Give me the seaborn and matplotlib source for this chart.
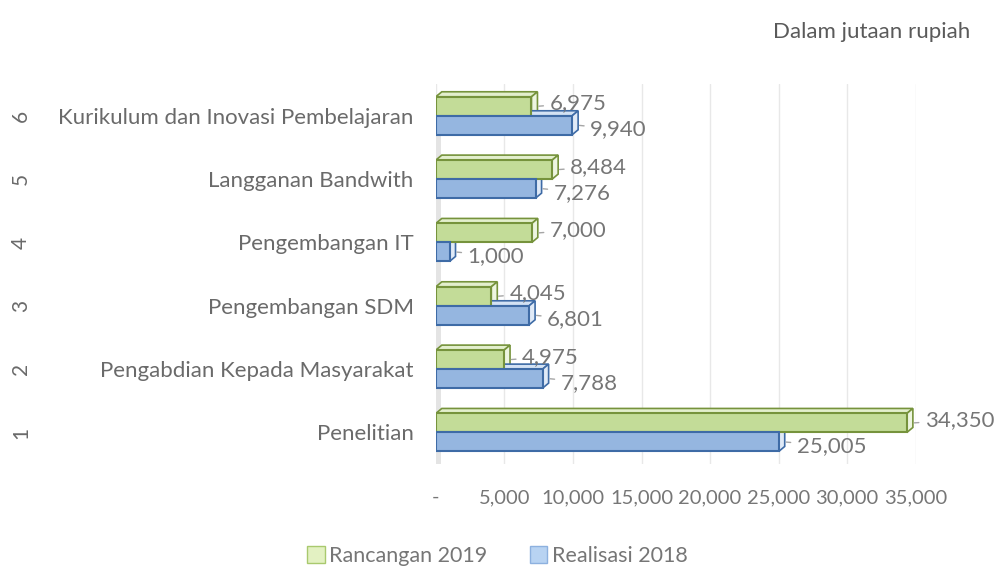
import pandas as pd
import matplotlib.pyplot as plt
import seaborn as sns
from matplotlib.patches import Polygon, Patch, Rectangle
from matplotlib.transforms import blended_transform_factory

# data (Dalam jutaan rupiah)
categories = ['Kurikulum dan Inovasi Pembelajaran', 'Langganan Bandwith', 'Pengembangan IT',
              'Pengembangan SDM', 'Pengabdian Kepada Masyarakat', 'Penelitian']
numbers = ['6', '5', '4', '3', '2', '1']
rancangan_2019 = [6975, 8484, 7000, 4045, 4975, 34350]
realisasi_2018 = [9940, 7276, 1000, 6801, 7788, 25005]
series = ['Rancangan 2019', 'Realisasi 2018']

df = pd.DataFrame({
    'kategori': categories * 2,
    'nilai': rancangan_2019 + realisasi_2018,
    'seri': [series[0]] * 6 + [series[1]] * 6,
})

sns.set_theme(style='white')
plt.rcParams['font.family'] = ['Lato', 'DejaVu Sans']

fig = plt.figure(figsize=(9.95, 5.66), dpi=100)
ax = fig.add_axes([0.438, 0.180, 0.4824, 0.6714])

face = {series[0]: '#C3DC98', series[1]: '#95B6E0'}
edge = {series[0]: '#76933C', series[1]: '#3E6BA6'}
top_c = {series[0]: '#E3EFCD', series[1]: '#D3E2F4'}
side_c = {series[0]: '#EDF5E0', series[1]: '#E0EAF7'}

sns.barplot(data=df, y='kategori', x='nilai', hue='seri', order=categories,
            hue_order=series, palette=face, saturation=1, width=0.6, orient='h',
            ax=ax, legend=False, zorder=3)

ax.set_xlim(0, 35000)
ax.set_ylim(5.5, -0.5)

# depth of the fake 3D bars, in data units
dx = 6 / (ax.bbox.width / 35000)
dy = 5 / (ax.bbox.height / 6)

grey = '#767676'
for i, s in enumerate(series):
    cont = ax.containers[i]
    for p, v in zip(cont.patches, df[df['seri'] == s]['nilai']):
        p.set_edgecolor(edge[s])
        p.set_linewidth(1.5)
        x0, x1 = p.get_x(), p.get_x() + p.get_width()
        yt, yb = p.get_y(), p.get_y() + p.get_height()
        ax.add_patch(Polygon([(x0, yt), (x1, yt), (x1 + dx, yt - dy), (x0 + dx, yt - dy)],
                             closed=True, fc=top_c[s], ec=edge[s], lw=1.2, zorder=2.5))
        ax.add_patch(Polygon([(x1, yt), (x1, yb), (x1 + dx, yb - dy), (x1 + dx, yt - dy)],
                             closed=True, fc=side_c[s], ec=edge[s], lw=1.2, zorder=2.5))
        yc = (yt + yb) / 2
        shift = 3 if i == 0 else -4
        ax.annotate(f'{v:,.0f}', xy=(x1 + dx, yc), xytext=(12, shift),
                    textcoords='offset pixels', va='center', ha='left',
                    fontsize=16, color=grey,
                    arrowprops=dict(arrowstyle='-', color='#A6A6A6', lw=1,
                                    shrinkA=2, shrinkB=1))

# grey side wall and gridlines
ax.add_patch(Rectangle((-300, -0.35), 650, 5.87, fc='#E4E4E4', ec='none', zorder=1))
ax.set_xticks(range(0, 35001, 5000))
ax.set_xticklabels(['-'] + [f'{t:,}' for t in range(5000, 35001, 5000)])
ax.grid(axis='x', color='#E8E8E8', lw=1, zorder=0)
ax.tick_params(axis='x', length=0, pad=18, labelsize=14.5, labelcolor=grey)
ax.tick_params(axis='y', length=0, pad=16, labelsize=16, labelcolor='#6A6A6A')
for sp in ax.spines.values():
    sp.set_visible(False)
ax.set_xlabel('')
ax.set_ylabel('')

# outer level of the category axis
trans = blended_transform_factory(fig.transFigure, ax.transData)
for k, n in enumerate(numbers):
    ax.text(0.021, k, n, transform=trans, rotation=90, va='center', ha='center',
            fontsize=15, color='#6A6A6A')

fig.text(0.975, 0.944, 'Dalam jutaan rupiah', ha='right', va='center',
         fontsize=16, color='#5A5A5A')

handles = [Patch(fc='#E3F1C2', ec='#A9C96E', label=series[0]),
           Patch(fc='#B8D3F2', ec='#8DB1DF', label=series[1])]
fig.legend(handles=handles, loc='center', bbox_to_anchor=(0.5, 0.018), ncol=2,
           frameon=False, fontsize=15.5, labelcolor=grey, handlelength=0.8,
           handleheight=0.8, handletextpad=0.2, columnspacing=2.0)

fig.savefig('out.png', dpi=100)
